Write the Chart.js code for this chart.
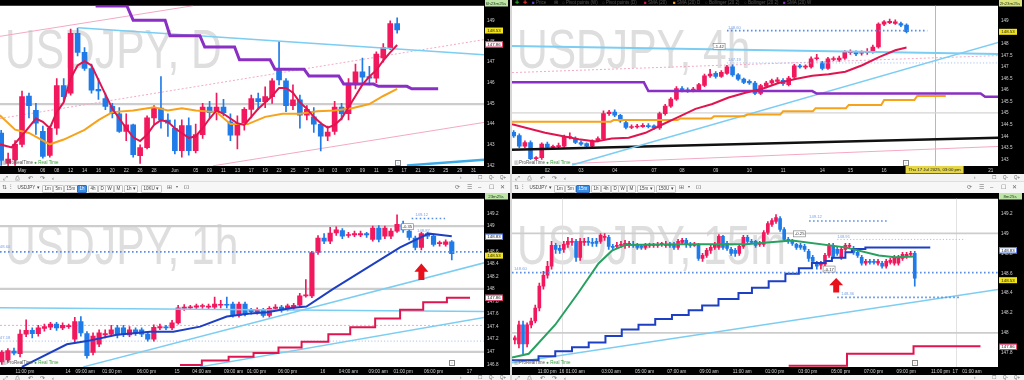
<!DOCTYPE html>
<html><head><meta charset="utf-8">
<script src="https://cdn.jsdelivr.net/npm/chart.js@4.4.1/dist/chart.umd.min.js"></script>
<style>
html,body{margin:0;padding:0}
body{width:1024px;height:380px;overflow:hidden;background:#e9e9e9;position:relative;font-family:"Liberation Sans",Arial,sans-serif}
canvas{position:absolute;display:block}
.el{position:absolute;white-space:nowrap;line-height:1}
.btn{font-size:4.5px;color:#444;border:0.5px solid #c6c6c6;background:#fbfbfb;padding:1.2px 1.6px;border-radius:1px}
.hl{background:#3b8ee8;color:#fff;border-color:#2a70c0}
.ic{font-size:6px;color:#666}
.leg{font-size:4.5px;color:#555}
.prt{font-size:4.5px;color:#555}
.info{width:4px;height:4px;border:0.6px solid #888;font-size:3.5px;line-height:4px;text-align:center;color:#777;background:#fff}
</style></head><body>
<div class="el" style="left:0;top:174px;width:1024px;height:7px;background:#f3f3f3"></div>
<div class="el" style="left:0;top:181px;width:1024px;height:12px;background:#f7f7f7;border-top:0.5px solid #dedede"></div>
<div class="el" style="left:0;top:375px;width:1024px;height:5px;background:#f3f3f3"></div>
<div class="el" style="left:510px;top:0;width:2px;height:380px;background:#d6d6d6"></div>
<canvas id="cD" width="510" height="174" style="left:0;top:0"></canvas>
<canvas id="c4" width="512" height="174" style="left:512px;top:0"></canvas>
<canvas id="c1" width="510" height="182" style="left:0;top:193px"></canvas>
<canvas id="c15" width="512" height="182" style="left:512px;top:193px"></canvas>
<script>
// ================= DAILY (USDJPY, D) =================
const dayFirst = -3;
const dayOpen = [143.57,142.10,142.27,143.02,145.36,144.66,143.65,142.48,143.80,145.86,145.50,148.40,147.47,146.69,145.68,145.24,144.86,144.50,143.65,143.96,142.47,142.86,144.30,144.77,144.19,143.80,142.71,143.93,142.71,143.49,144.82,144.55,144.82,144.11,143.46,143.99,144.71,145.24,145.08,145.33,146.64,146.10,144.89,145.17,144.43,144.35,143.99,143.41,143.65,144.82,144.50,145.99,146.53,146.30,146.22,147.20,147.70,148.87];
const dayHigh = [143.70,142.60,143.20,145.60,145.50,145.00,143.90,143.90,146.20,146.20,148.60,148.65,147.70,146.90,146.20,145.50,145.00,144.80,144.50,144.00,143.00,144.40,144.90,146.30,144.50,144.20,144.20,144.30,144.00,145.00,145.10,145.50,145.20,144.50,144.40,144.80,145.40,145.50,145.80,146.20,148.01,146.20,145.90,145.40,144.90,144.80,144.10,143.90,145.10,145.00,146.20,146.90,147.20,146.80,147.50,147.90,149.00,149.14];
const dayLow = [142.00,141.97,142.00,142.90,144.30,143.50,142.35,142.40,143.50,145.10,145.40,147.30,146.60,145.50,145.20,144.70,144.30,143.60,143.20,142.40,142.10,142.80,144.00,143.80,143.40,142.55,142.40,142.50,142.60,143.30,144.30,144.20,144.40,143.20,142.80,143.70,144.30,144.70,144.80,145.00,145.90,144.60,144.70,143.80,144.20,143.60,142.70,143.20,143.50,144.20,144.20,145.70,146.00,145.90,146.00,147.00,147.60,148.40];
const dayClose = [142.24,142.30,143.02,145.33,144.89,144.04,142.43,143.80,145.86,145.33,148.40,147.47,146.69,145.64,145.60,144.86,144.50,143.65,143.96,142.52,142.86,144.30,144.77,144.20,144.04,142.71,143.93,142.71,143.49,144.82,144.55,144.82,144.55,143.46,143.99,144.71,145.24,145.08,145.33,146.10,146.14,144.89,145.17,144.43,144.71,143.99,143.41,143.61,144.82,144.50,145.99,146.53,146.27,146.22,147.39,147.70,148.87,148.56];
const dayTickPos = [0,3,5,7,9,11,13,15,17,19,22,25,27,29,31,33,35,37,39,41,43,45,47,49,51,53,55,57,59,61,63,65];
const dayTickLabels = ['May','06','08','12','14','16','20','22','26','28','Jun','05','09','11','13','17','19','23','25','27','Jul','03','07','09','11','15','17','21','23','25','29','31'];
const dayPriceTicks = [142,143,144,145,146,147,148,149];
const daySmaX = [-3.2,-1.5,0.5,2,3,4,5,6,7,8,9,10,11,12,13,14,15,16,17,18,19,20,21,22,23,24,25,26,27,28,29,30,31,32,33,34,35,36,37,38,39,40,41,42,43,44,45,46,47,48,49,50,51,52,53,54];
const daySmaY = [143.02,142.87,143.65,144.27,144.11,143.80,144.58,145.05,146.22,146.84,147.05,146.84,146.14,145.44,144.74,144.27,143.80,143.36,143.18,143.49,143.96,144.19,144.11,143.80,143.57,143.33,143.41,143.80,144.27,144.66,144.50,144.27,144.04,143.96,144.35,144.74,145.05,145.36,145.75,145.75,145.52,145.05,144.74,144.35,144.04,143.83,143.96,144.27,144.82,145.36,145.91,146.30,146.61,147.08,147.47,147.83];
const daySma20X = [-3.2,-1,1,4,6,9,11,13,16,19,21,23,25,28,30,32.5,35,37.5,40,42.5,45,47.5,50,52,54];
const daySma20Y = [144.43,143.73,143.57,143.02,143.25,143.72,144.19,144.58,144.66,144.82,144.66,144.77,144.66,144.58,144.00,144.00,144.35,144.50,144.50,144.62,144.66,144.77,144.97,145.36,145.70];
const dayWeekX = [10.6,10.8,15.1,16.0,20.6,21.3,25.6,26.3,30.6,31.3,35.7,36.4,40.6,41.3,45.6,46.3,50.6,51.3,55.4,56.1,59.9];
const dayWeekY = [150.3,149.72,149.72,149.03,149.03,148.28,148.28,147.73,147.73,147.11,147.11,146.66,146.66,146.33,146.33,145.94,145.94,145.83,145.83,145.71,145.71];
const dayTrendX = [8.06,66.5], dayTrendY = [148.67,147.36];
const dayTrend2X = [55.4,66.5], dayTrend2Y = [142.0,142.27];
const dayBandUpX = [-3.17,24.6], dayBandUpY = [148.25,149.73];
const dayBandLoX = [27.5,66.5], dayBandLoY = [141.98,144.08];
const dayBandMidX = [-3.17,66.5], dayBandMidY = [144.27,148.09];
const dayLevels = [144.97];
const dayPrice = 148.53, dayPrevClose = 147.86;

// ================= 4H =================
const h4First = 0;
const h4Open = [144.17,144.03,143.57,143.73,143.03,143.07,143.66,143.52,143.55,143.57,143.94,143.87,143.73,143.68,143.57,143.80,143.90,144.98,145.05,144.91,144.59,144.38,144.40,144.42,144.46,144.45,144.36,144.98,145.31,145.61,146.07,146.00,145.97,146.00,146.20,146.62,146.73,146.59,146.73,147.01,146.66,146.48,146.38,146.31,145.86,146.17,146.31,146.38,146.43,146.24,146.56,147.05,147.00,147.01,147.36,147.18,146.94,147.33,147.31,147.39,147.62,147.64,147.60,147.62,147.66,147.87,148.86,148.93,148.89,148.89,148.82];
const h4High = [144.25,144.10,143.80,143.80,143.12,143.72,143.75,143.62,143.70,144.05,144.15,143.98,143.80,143.72,143.85,143.98,145.10,145.12,145.15,144.95,144.65,144.50,144.52,144.55,144.55,144.50,145.05,145.38,145.68,146.15,146.15,146.10,146.12,146.30,146.70,146.90,146.80,146.85,147.08,147.10,146.72,146.52,146.45,146.38,146.25,146.38,146.48,146.55,146.50,146.60,147.12,147.12,147.10,147.45,147.55,147.25,147.42,147.45,147.48,147.72,147.75,147.70,147.70,147.80,147.95,148.92,149.02,149.08,149.05,148.95,148.88];
const h4Low = [143.95,143.50,143.50,142.98,142.98,143.00,143.45,143.46,143.48,143.52,143.88,143.68,143.60,143.52,143.52,143.75,143.85,144.90,144.85,144.60,144.32,144.33,144.35,144.38,144.36,144.30,144.30,144.92,145.25,145.55,145.92,145.90,145.92,145.95,146.15,146.55,146.52,146.55,146.68,146.60,146.42,146.28,146.25,145.80,145.80,146.10,146.25,146.30,146.20,146.18,146.50,146.95,146.92,146.95,147.30,146.88,146.90,147.28,147.25,147.33,147.55,147.50,147.52,147.55,147.60,147.82,148.80,148.88,148.85,148.75,148.48];
const h4Close = [144.01,143.57,143.73,143.03,143.07,143.66,143.52,143.56,143.58,143.96,143.98,143.73,143.66,143.57,143.80,143.90,144.98,145.05,144.91,144.66,144.38,144.41,144.43,144.47,144.42,144.36,144.98,145.31,145.61,146.07,146.00,145.97,146.05,146.24,146.62,146.70,146.59,146.77,147.01,146.66,146.48,146.34,146.31,145.86,146.20,146.31,146.41,146.45,146.28,146.52,147.05,147.01,147.02,147.36,147.40,146.94,147.36,147.36,147.39,147.66,147.66,147.57,147.64,147.66,147.87,148.86,148.96,148.98,148.96,148.82,148.54];
const h4TickPos = [6,12,18,25,30,36,42,48,55,60,66,85];
const h4TickLabels = ['02','03','04','07','08','09','10','11','14','15','16','21'];
const h4PriceTicks = [143,143.5,144,144.5,145,145.5,146,146.5,147,147.5,148,148.5,149];
const h4SmaX = [-0.3,5.6,8.6,11.6,14.6,17.5,20.5,23.5,26.4,29.4,32.4,35.4,38.3,41.3,44.3,47.2,50.2,53.2,56.1,59.1,62.1,65.1,68,70];
const h4SmaY = [144.52,144.15,144.01,143.87,143.77,143.90,143.94,144.15,144.50,144.84,145.19,145.40,145.68,145.89,146.06,146.31,146.48,146.62,146.69,146.80,147.08,147.43,147.73,147.85];
const h4DayX = [-0.3,17.3,17.8,29.2,29.7,35.2,35.7,41.1,41.6,47.5,48.0,53.3,53.8,59.2,59.7,65.5,66.0,71.4,71.9,77.0];
const h4DayY = [144.63,144.63,144.70,144.70,144.77,144.77,144.87,144.87,144.94,144.94,145.08,145.08,145.22,145.22,145.36,145.36,145.57,145.57,145.75,145.75];
const h4WeekX = [-0.3,23.2,24.0,53.2,54.0,83.2,84.0,86.5];
const h4WeekY = [146.34,146.34,145.96,145.96,145.85,145.85,145.71,145.71];
const h4SupportX = [-0.3,86.5], h4SupportY = [143.42,143.94];
const h4TrendX = [10.4,86.5], h4TrendY = [142.75,148.08];
const h4FlatX = [-0.3,86.5], h4FlatY = [147.91,147.57];
const h4MidX = [-0.3,86.5], h4MidY = [146.76,147.50];
const h4LowX = [10.4,86.5], h4LowY = [142.82,143.56];
const h4Levels = [145.01];
const h4DotAX = [38,73.7], h4DotAY = 148.58;
const h4DotBX = [38,86.5], h4DotBY = 147.18;
const h4Cross = 75;

// ================= 1H =================
const h1First = 0;
const h1Open = [146.84,146.87,147.01,146.97,147.28,147.34,147.29,147.37,147.39,147.44,147.38,147.40,147.20,147.48,147.29,146.99,147.12,147.27,147.28,147.38,147.38,147.27,147.35,147.35,147.28,147.20,147.38,147.39,147.38,147.46,147.69,147.70,147.71,147.72,147.71,147.71,147.74,147.75,147.76,147.58,147.76,147.66,147.64,147.66,147.58,147.69,147.71,147.68,147.70,147.74,147.89,147.89,148.58,148.81,148.76,148.89,148.93,148.85,148.86,148.86,148.88,148.79,148.97,148.84,148.84,148.92,149.03,148.92,148.81,148.66,148.88,148.84,148.72,148.71,148.75];
const h1High = [147.02,147.05,147.06,147.35,147.51,147.38,147.42,147.44,147.47,147.47,147.46,147.44,147.55,147.56,147.32,147.30,147.35,147.35,147.42,147.42,147.42,147.40,147.38,147.38,147.31,147.43,147.44,147.42,147.50,147.74,147.75,147.74,147.76,147.76,147.76,147.87,147.82,147.87,147.79,147.79,147.79,147.69,147.70,147.69,147.72,147.75,147.74,147.76,147.77,147.93,148.15,148.60,148.85,148.88,148.98,148.99,148.96,148.90,148.92,148.92,148.90,149.00,149.01,149.00,148.96,149.18,149.08,148.95,148.84,148.90,148.90,148.87,148.76,148.78,148.77];
const h1Low = [146.80,146.84,146.95,146.92,147.24,147.22,147.25,147.33,147.35,147.34,147.35,147.37,147.15,147.25,146.90,146.95,147.08,147.22,147.25,147.22,147.24,147.24,147.26,147.24,147.17,147.17,147.35,147.35,147.35,147.44,147.66,147.67,147.68,147.69,147.68,147.68,147.70,147.70,147.55,147.55,147.57,147.60,147.60,147.55,147.55,147.66,147.63,147.65,147.67,147.72,147.87,147.86,148.55,148.72,148.72,148.85,148.80,148.82,148.83,148.83,148.82,148.76,148.75,148.80,148.80,148.90,148.90,148.78,148.62,148.62,148.80,148.68,148.68,148.68,148.46];
const h1Close = [146.99,147.02,146.98,147.28,147.34,147.29,147.38,147.40,147.44,147.38,147.42,147.41,147.48,147.30,146.94,147.25,147.30,147.29,147.35,147.27,147.28,147.35,147.30,147.28,147.20,147.39,147.40,147.38,147.46,147.70,147.71,147.71,147.73,147.73,147.72,147.76,147.75,147.74,147.58,147.76,147.60,147.64,147.66,147.58,147.69,147.71,147.66,147.73,147.74,147.89,147.90,148.58,148.81,148.76,148.89,148.94,148.84,148.86,148.88,148.88,148.86,148.97,148.79,148.97,148.92,149.03,148.94,148.82,148.66,148.88,148.84,148.71,148.73,148.75,148.56];
const h1TickPos = [3.8,10.9,13.7,18.1,23.8,28.8,32.9,38.1,41.9,47,52.8,57,61.9,66,71,76.9];
const h1TickLabels = ['11:00 pm','14','09:00 am','01:00 pm','06:00 pm','15','04:00 am','09:00 am','01:00 pm','06:00 pm','16','04:00 am','09:00 am','01:00 pm','06:00 pm','17'];
const h1PriceTicks = [146.8,147,147.2,147.4,147.6,147.8,148,148.2,148.4,148.6,148.8,149,149.2];
const h1SmaX = [3.3,10.7,14,18.9,24.4,28.2,32.6,37,40.8,43.6,47.9,50.1,54.5,60,65.5,70.2,71.2,74];
const h1SmaY = [146.76,147.12,147.17,147.27,147.32,147.32,147.40,147.56,147.61,147.63,147.70,147.72,148.00,148.33,148.66,148.88,148.87,148.84];
const h1StepX = [29.3,32.9,37.3,41.4,45.5,49.3,53.7,57.3,61.4,65.5,69.3,73.2,77];
const h1StepY = [146.79,146.86,146.92,146.98,147.07,147.16,147.28,147.39,147.53,147.67,147.79,147.86,147.86];
const h1CyanAX = [-0.3,79.3], h1CyanAY = [147.70,147.64];
const h1CyanBX = [13.4,79.5], h1CyanBY = [146.76,148.42];
const h1CyanCX = [32.6,79.5], h1CyanCY = [146.76,147.55];
const h1Levels = [147,148,149];
const h1DotMain = 148.59, h1DotLow = 147.17, h1DotPink = 147.42;
const h1DotTopX = [67.4,72.9], h1DotTopY = 149.12;
const h1Arrow = [69.0,148.404,148.143];

// ================= 15M =================
const m15First = 0;
const m15Open = [147.93,147.89,148.08,147.89,148.08,148.12,148.25,148.47,148.58,148.67,148.88,148.85,148.84,148.89,148.91,148.92,148.76,148.91,148.92,148.91,148.92,148.92,148.96,148.96,148.87,148.87,148.88,148.88,148.89,148.89,148.88,148.87,148.86,148.88,148.88,148.88,148.89,148.88,148.89,148.89,148.86,148.91,148.93,148.89,148.88,148.89,148.75,148.78,148.83,148.86,148.86,148.97,148.90,148.84,148.83,148.80,148.87,148.96,148.92,148.92,148.89,148.89,149.01,149.09,149.12,149.15,149.04,148.94,148.92,148.89,148.88,148.87,148.82,148.76,148.70,148.68,148.69,148.78,148.88,148.84,148.76,148.84,148.87,148.85,148.81,148.76,148.70,148.72,148.72,148.70,148.70,148.67,148.71,148.70,148.70,148.75,148.77,148.79,148.80];
const m15High = [147.97,148.12,148.12,148.10,148.15,148.28,148.50,148.62,148.72,148.92,148.90,148.88,148.92,148.96,148.95,148.94,148.95,148.95,148.96,148.95,148.95,149.00,149.00,148.98,148.89,148.91,148.92,148.93,148.92,148.92,148.90,148.89,148.90,148.90,148.90,148.91,148.91,148.92,148.91,148.91,148.94,148.95,148.95,148.91,148.91,148.90,148.80,148.85,148.88,148.91,148.99,148.98,148.92,148.86,148.85,148.89,148.98,148.98,148.94,148.93,148.92,149.03,149.12,149.15,149.19,149.17,149.06,148.96,148.94,148.90,148.90,148.89,148.84,148.78,148.72,148.72,148.80,148.90,148.90,148.86,148.86,148.90,148.90,148.87,148.83,148.78,148.74,148.74,148.74,148.74,148.72,148.74,148.75,148.78,148.78,148.81,148.81,148.82,148.82];
const m15Low = [147.89,147.85,147.79,147.86,148.05,148.10,148.22,148.44,148.55,148.64,148.80,148.80,148.81,148.86,148.88,148.72,148.73,148.88,148.88,148.87,148.87,148.90,148.93,148.84,148.83,148.85,148.86,148.85,148.86,148.86,148.84,148.84,148.84,148.86,148.86,148.86,148.87,148.86,148.86,148.84,148.84,148.89,148.86,148.86,148.87,148.73,148.72,148.76,148.80,148.84,148.84,148.84,148.83,148.78,148.77,148.78,148.85,148.90,148.90,148.86,148.87,148.87,148.99,149.07,149.10,149.02,148.92,148.90,148.88,148.84,148.84,148.82,148.72,148.70,148.64,148.64,148.66,148.76,148.75,148.78,148.74,148.82,148.85,148.79,148.76,148.68,148.68,148.69,148.69,148.68,148.65,148.65,148.69,148.68,148.68,148.73,148.75,148.77,148.47];
const m15Close = [147.95,148.08,147.89,148.08,148.12,148.25,148.47,148.58,148.67,148.88,148.84,148.83,148.89,148.92,148.92,148.76,148.92,148.92,148.91,148.90,148.90,148.98,148.97,148.87,148.86,148.88,148.89,148.90,148.90,148.88,148.86,148.86,148.88,148.89,148.89,148.89,148.90,148.89,148.88,148.86,148.92,148.93,148.89,148.88,148.89,148.75,148.78,148.83,148.86,148.89,148.97,148.86,148.85,148.80,148.80,148.87,148.96,148.92,148.91,148.88,148.90,149.01,149.10,149.13,149.16,149.04,148.94,148.93,148.90,148.86,148.86,148.84,148.75,148.72,148.67,148.69,148.78,148.87,148.77,148.80,148.84,148.88,148.88,148.81,148.78,148.70,148.72,148.71,148.71,148.72,148.67,148.72,148.73,148.76,148.76,148.79,148.79,148.80,148.55];
const m15TickPos = [7.9,11.5,14.8,23.6,31.8,39.7,47.6,55.7,63.7,71.8,79.8,87.9,95.9,104.3,107.9,112];
const m15TickLabels = ['11:00 pm','16','01:00 am','03:00 am','05:00 am','07:00 am','09:00 am','11:00 am','01:00 pm','03:00 pm','05:00 pm','07:00 pm','09:00 pm','11:00 pm','17','01:00 am'];
const m15PriceTicks = [147.8,148,148.2,148.4,148.6,148.8,149,149.2];
const m15SmaX = [-0.7,3.4,9.9,15.6,20.5,23.8,27.1,40.1,56.5,67.9,81,89.2,93.2,97.7];
const m15SmaY = [147.752,147.79,148.082,148.406,148.698,148.827,148.885,148.892,148.892,148.93,148.86,148.779,148.762,148.769];
const m15StepX = [-0.7,5.8,9.9,14,18.1,22.2,26.2,30.3,34.4,38.5,42.6,45.9,49.9,54.8,58.1,62.2,66.3,69.6,72.8,76.1,77.7,81,82.6,85.9,101.8];
const m15StepY = [147.726,147.765,147.816,147.855,147.904,147.969,148.033,148.082,148.14,148.179,148.228,148.276,148.341,148.4,148.455,148.519,148.594,148.649,148.704,148.723,148.756,148.811,148.843,148.86,148.86];
const m15RedX = [67.1,81.4,97.7,114.1], m15RedY = [147.67,147.79,147.865,147.865];
const m15CyanX = [-0.7,118.6], m15CyanY = [147.70,148.438];
const m15Levels = [148,149];
const m15DotMain = 148.607;
const m15DotTopX = [72.1,91.2], m15DotTopY = 149.125;
const m15DotMidX = [79,110.4], m15DotMidY = 148.94;
const m15DotLowX = [79,108.9], m15DotLowY = 148.357;
const m15Days = [11.5,108];
const m15Arrow = [78.75,148.552,148.406];
const lastPrice = 148.53, prevClose = 147.86, smaNow = 148.83;

// ================= drawing =================
const UP = '#f2185d', DN = '#1f7be8';
const FONT = '"Liberation Sans", Arial, sans-serif';
const CYAN = '#7ccdf2', PINK = '#f3a9c5', DOT = '#5a8ee6', GRAYL = '#cdcdcd';
function L(x, y, c, w, o, extra) { return Object.assign({x, y, c, w, o}, extra || {}); }

function mkChart(id, P) {
  const ds = [];
  const cols = P.O.map((o, i) => P.C[i] >= o ? UP : DN);
  ds.push({type:'bar', order:6, grouped:false, barThickness:1, minBarLength:1, backgroundColor:cols,
    data:P.O.map((o, i) => ({x:P.first + i, y:[P.L[i], P.H[i]]}))});
  ds.push({type:'bar', order:5, grouped:false, barThickness:P.bw, minBarLength:1, backgroundColor:cols,
    data:P.O.map((o, i) => ({x:P.first + i, y:[Math.min(o, P.C[i]), Math.max(o, P.C[i])]}))});
  P.lines.forEach(l => ds.push({type:'line', order:l.o, borderColor:l.c, borderWidth:l.w, borderDash:l.d || [],
    stepped:l.s || false, pointRadius:0, pointHoverRadius:0, fill:false, tension:0,
    data:l.x.map((x, i) => ({x, y:Array.isArray(l.y) ? l.y[i] : l.y}))}));

  const txt = (c, s, x, y, col, size, align, base) => {
    c.fillStyle = col; c.font = (size || 4.5) + 'px ' + FONT; c.textAlign = align || 'left';
    c.textBaseline = base || 'middle'; c.fillText(s, x, y);
  };
  const plug = {
    id:'deco_' + id,
    beforeDraw(ch) {
      const c = ch.ctx, a = ch.chartArea;
      c.save(); c.fillStyle = '#000'; c.fillRect(0, 0, ch.width, ch.height);
      c.fillStyle = '#fff'; c.fillRect(a.left, a.top, a.right - a.left, a.bottom - a.top); c.restore();
    },
    beforeDatasetsDraw(ch) {
      const c = ch.ctx, a = ch.chartArea, xs = ch.scales.x;
      c.save(); c.beginPath(); c.rect(a.left, a.top, a.right - a.left, a.bottom - a.top); c.clip();
      c.fillStyle = '#dedede'; c.font = '56px ' + FONT; c.textAlign = 'left'; c.textBaseline = 'alphabetic';
      c.translate(a.left + 5, a.top + P.wmBase); c.scale(0.76, 1); c.fillText(P.wm, 0, 0);
      c.restore();
      c.save();
      (P.vl || []).forEach(v => {
        const px = Math.round(xs.getPixelForValue(v.x)) + 0.5;
        c.strokeStyle = v.c; c.lineWidth = 1; c.beginPath(); c.moveTo(px, a.top); c.lineTo(px, a.bottom); c.stroke();
      });
      c.restore();
    },
    afterDatasetsDraw(ch) {
      const c = ch.ctx, a = ch.chartArea, xs = ch.scales.x, ys = ch.scales.y;
      c.save(); c.beginPath(); c.rect(a.left, a.top, a.right - a.left, a.bottom - a.top); c.clip();
      (P.texts || []).forEach(t => txt(c, t.t, xs.getPixelForValue(t.x), ys.getPixelForValue(t.y), t.c || '#7aa3ea', 4.2, t.al));
      (P.boxes || []).forEach(b => {
        const px = xs.getPixelForValue(b.x), py = ys.getPixelForValue(b.y);
        c.fillStyle = '#fff'; c.fillRect(px - 6, py - 3, 12, 6);
        c.strokeStyle = '#777'; c.lineWidth = 0.6; c.strokeRect(px - 6, py - 3, 12, 6);
        txt(c, b.t, px, py + 0.3, '#333', 4.2, 'center');
      });
      (P.arrows || []).forEach(r => {
        const px = xs.getPixelForValue(r[0]), yt = ys.getPixelForValue(r[1]), yb = ys.getPixelForValue(r[2]);
        const hh = (yb - yt) * 0.5;
        c.fillStyle = '#e8101a'; c.beginPath();
        c.moveTo(px, yt); c.lineTo(px + 7, yt + hh); c.lineTo(px + 3, yt + hh); c.lineTo(px + 3, yb);
        c.lineTo(px - 3, yb); c.lineTo(px - 3, yt + hh); c.lineTo(px - 7, yt + hh); c.closePath(); c.fill();
      });
      c.restore();
    },
    afterDraw(ch) {
      const c = ch.ctx, a = ch.chartArea, xs = ch.scales.x, ys = ch.scales.y;
      c.save();
      if (P.top) {
        c.fillStyle = P.top.bg; c.fillRect(a.right + 1, 0, ch.width - a.right - 3, 6.5);
        txt(c, P.top.t, (a.right + ch.width) / 2 - 1, 3.4, '#1f3d18', 4.4, 'center');
      }
      (P.axBoxes || []).forEach(b => {
        const py = ys.getPixelForValue(b.v);
        c.fillStyle = b.bg; c.fillRect(a.right + 1, py - 3, 18, 6);
        if (b.bd) { c.strokeStyle = b.bd; c.lineWidth = 0.8; c.strokeRect(a.right + 1.4, py - 2.6, 17.2, 5.2); }
        txt(c, b.v.toFixed(2), a.right + 10, py + 0.3, '#222', 4.4, 'center');
      });
      if (P.xBox) {
        const px = xs.getPixelForValue(P.xBox.x);
        c.fillStyle = '#e5d648'; c.fillRect(px - 29, a.bottom, 58, 7.5);
        txt(c, P.xBox.t, px, a.bottom + 4, '#222', 4.4, 'center');
      }
      c.restore();
    }
  };

  return new Chart(document.getElementById(id), {
    type:'bar',
    data:{datasets:ds},
    plugins:[plug],
    options:{
      responsive:false, maintainAspectRatio:false, animation:false, devicePixelRatio:1, events:[],
      layout:{padding:0, autoPadding:false},
      plugins:{legend:{display:false}, tooltip:{enabled:false}},
      scales:{
        x:{type:'linear', min:P.xmin, max:P.xmax, offset:false,
          grid:{display:false, drawTicks:false}, border:{display:false},
          afterBuildTicks:s => { s.ticks = P.xt.map(v => ({value:v})); },
          afterFit:s => { s.height = 8; },
          ticks:{autoSkip:false, maxRotation:0, minRotation:0, padding:2, color:'#d2d2d2',
            font:{family:FONT, size:4.6}, callback:(v, i) => P.xl[i]}},
        y:{type:'linear', position:'right', min:P.ymin, max:P.ymax, beginAtZero:false,
          grid:{display:false, drawTicks:false}, border:{display:false},
          afterBuildTicks:s => { s.ticks = P.yt.map(v => ({value:v})); },
          afterFit:s => { s.width = 26; },
          ticks:{padding:3, color:'#d2d2d2', font:{family:FONT, size:4.6}, callback:v => String(+(+v).toFixed(2))}}
      }
    }
  });
}

// Daily
mkChart('cD', {
  first:dayFirst, O:dayOpen, H:dayHigh, L:dayLow, C:dayClose, bw:5,
  xmin:-3.17, xmax:66.5, ymin:141.97, ymax:149.73, xt:dayTickPos, xl:dayTickLabels, yt:dayPriceTicks,
  wm:'USDJPY, D', wmBase:62,
  lines:[
    L([-3.17,66.5], dayLevels[0], GRAYL, 2.2, 10),
    L(dayBandUpX, dayBandUpY, PINK, 1, 8),
    L(dayBandLoX, dayBandLoY, PINK, 1, 8),
    L(dayBandMidX, dayBandMidY, PINK, 1, 8, {d:[2,2]}),
    L(dayTrendX, dayTrendY, CYAN, 1.5, 3),
    L(dayTrend2X, dayTrend2Y, '#3aaae8', 2.5, 3),
    L(dayWeekX, dayWeekY, '#8a2fc4', 3, 2),
    L(daySma20X, daySma20Y, '#f7a21b', 2, 2),
    L(daySmaX, daySmaY, '#e0154f', 2, 1)
  ],
  top:{t:'6h23m25s', bg:'#bfe6a8'},
  axBoxes:[{v:dayPrice, bg:'#f2e41c'}, {v:dayPrevClose, bg:'#fff', bd:'#e0154f'}]
});

// 4h
mkChart('c4', {
  first:h4First, O:h4Open, H:h4High, L:h4Low, C:h4Close, bw:4,
  xmin:-0.3, xmax:86.3, ymin:142.71, ymax:149.66, xt:h4TickPos, xl:h4TickLabels, yt:h4PriceTicks,
  wm:'USDJPY, 4h', wmBase:62,
  vl:[{x:h4Cross, c:'#b8b8b8'}],
  lines:[
    L([-0.3,86.5], h4Levels[0], '#d4d4d4', 1.2, 10),
    L(h4MidX, h4MidY, PINK, 1, 8, {d:[2,2]}),
    L(h4LowX, h4LowY, PINK, 1, 8),
    L(h4FlatX, h4FlatY, CYAN, 2, 3),
    L(h4TrendX, h4TrendY, CYAN, 1.5, 3),
    L(h4SupportX, h4SupportY, '#111', 2.5, 3),
    L(h4WeekX, h4WeekY, '#8a2fc4', 2.5, 2),
    L(h4DayX, h4DayY, '#f7a21b', 2, 2),
    L(h4SmaX, h4SmaY, '#e0154f', 2, 1),
    L(h4DotAX, h4DotAY, DOT, 1.6, 1, {d:[1.6,2.4]}),
    L(h4DotBX, h4DotBY, '#a9c3f0', 1, 1, {d:[1.2,2]})
  ],
  texts:[{x:38.2, y:148.72, t:'148.60'}, {x:38.2, y:147.31, t:'147.19'}],
  boxes:[{x:36.6, y:147.89, t:'-1.42'}],
  top:{t:'2h23m25s', bg:'#dde37c'},
  axBoxes:[{v:lastPrice, bg:'#f2e41c'}],
  xBox:{x:h4Cross, t:'Thu 17 Jul 2025, 03:00 pm'}
});

// 1h
mkChart('c1', {
  first:h1First, O:h1Open, H:h1High, L:h1Low, C:h1Close, bw:4.5,
  xmin:-0.3, xmax:79.3, ymin:146.758, ymax:149.435, xt:h1TickPos, xl:h1TickLabels, yt:h1PriceTicks,
  wm:'USDJPY, 1h', wmBase:65,
  lines:[
    L([-0.3,79.3], h1Levels[0], GRAYL, 2.2, 10),
    L([-0.3,79.3], h1Levels[1], GRAYL, 2.2, 10),
    L([-0.3,79.3], h1Levels[2], GRAYL, 2.2, 10),
    L([-0.3,79.3], h1DotPink, PINK, 1, 8, {d:[2,2]}),
    L([-0.3,79.3], h1DotLow, '#a9c3f0', 1, 8, {d:[1.2,2]}),
    L(h1CyanAX, h1CyanAY, CYAN, 1.5, 3),
    L(h1CyanBX, h1CyanBY, CYAN, 1.5, 3),
    L(h1CyanCX, h1CyanCY, CYAN, 1.5, 3),
    L(h1StepX, h1StepY, '#e0154f', 2, 2, {s:true}),
    L(h1SmaX, h1SmaY, '#1d3fc4', 2, 1),
    L([-0.3,79.3], h1DotMain, DOT, 1.8, 1, {d:[1.6,2.4]}),
    L(h1DotTopX, h1DotTopY, DOT, 1.6, 1, {d:[1.6,2.4]})
  ],
  texts:[{x:1.4, y:148.666, t:'148.60', al:'right'}, {x:1.4, y:147.227, t:'147.18', al:'right'},
         {x:68, y:149.173, t:'149.12'}, {x:68.3, y:148.93, t:'148.87'}],
  boxes:[{x:66.7, y:148.99, t:'-0.35'}],
  arrows:[h1Arrow],
  top:{t:'23m25s', bg:'#bfe6a8'},
  axBoxes:[{v:smaNow, bg:'#fff', bd:'#3563d6'}, {v:lastPrice, bg:'#f2e41c'}, {v:prevClose, bg:'#fff', bd:'#e0154f'}]
});

// 15m
mkChart('c15', {
  first:m15First, O:m15Open, H:m15High, L:m15Low, C:m15Close, bw:3,
  xmin:-0.7, xmax:118.4, ymin:147.657, ymax:149.349, xt:m15TickPos, xl:m15TickLabels, yt:m15PriceTicks,
  wm:'USDJPY, 15m', wmBase:65,
  vl:[{x:m15Days[0], c:'#e2e2e2'}, {x:m15Days[1], c:'#e2e2e2'}],
  lines:[
    L([-0.7,118.4], m15Levels[0], GRAYL, 1.8, 10),
    L([-0.7,118.4], m15Levels[1], GRAYL, 1.8, 10),
    L(m15CyanX, m15CyanY, CYAN, 1.5, 3),
    L(m15RedX, m15RedY, '#e0154f', 2, 2, {s:true}),
    L(m15StepX, m15StepY, '#1d3fc4', 2, 2, {s:true}),
    L(m15SmaX, m15SmaY, '#27a060', 2, 1),
    L([-0.7,118.4], m15DotMain, DOT, 1.8, 1, {d:[1.6,2.4]}),
    L(m15DotTopX, m15DotTopY, DOT, 1.6, 1, {d:[1.6,2.4]}),
    L(m15DotMidX, m15DotMidY, '#a9c3f0', 1, 1, {d:[1.2,2]}),
    L(m15DotLowX, m15DotLowY, DOT, 1.6, 1, {d:[1.6,2.4]})
  ],
  texts:[{x:-0.2, y:148.64, t:'148.60'}, {x:72.1, y:149.164, t:'149.12'},
         {x:79, y:148.97, t:'148.91'}, {x:80, y:148.397, t:'148.36'}],
  boxes:[{x:69.8, y:148.996, t:'-0.25'}, {x:77, y:148.642, t:'-0.17'}],
  arrows:[m15Arrow],
  top:{t:'8m25s', bg:'#bfe6a8'},
  axBoxes:[{v:smaNow, bg:'#fff', bd:'#3563d6'}, {v:lastPrice, bg:'#f2e41c'}, {v:prevClose, bg:'#fff', bd:'#e0154f'}]
});

// ================= UI chrome (HTML text) =================
function add(cls, x, y, html, st) {
  const d = document.createElement('div'); d.className = 'el ' + cls;
  d.style.left = x + 'px'; d.style.top = y + 'px'; d.innerHTML = html;
  if (st) Object.assign(d.style, st);
  document.body.appendChild(d); return d;
}
// top-right legend
[['<span style="color:#2a2">✚</span>',515],['<span style="color:#e33">✚</span>',523],
 ['<span style="color:#6a3fd0">■</span> Price',532],['⊞',554],
 ['○ Pivot points (W)',562],['○ Pivot points (D)',602],
 ['<span style="color:#e0154f">■</span> SMA (20)',644],['<span style="color:#f7a21b">■</span> SMA (20) D',673],
 ['○ Bollinger (20 2)',705],['○ Bollinger (20 2)',744],['<span style="color:#8a2fc4">■</span> SMA (20) W',783]]
 .forEach(it => add('leg', it[1], 1.2, it[0]));
// ProRealTime footers & info icons
[[2,161],[514,161],[2,361],[514,361]].forEach(p =>
  add('prt', p[0], p[1], '<span style="color:#888">▥</span>ProRealTime <span style="color:#3aa03a">● Real Time</span>'));
[[395,160],[903,160],[449,360],[912,360]].forEach(p => add('info', p[0], p[1], 'i'));
// navigation rows
function navRow(x0, y, w) {
  [['⤢',3],['⎙',15],['↶',28],['↷',40],['‹',52]].forEach(it => add('ic', x0 + it[1], y, it[0]));
  [['›',w - 50],['☐',w - 32],['Q-',w - 21],['Q+',w - 10]].forEach(it => add('ic', x0 + it[1], y, it[0], {fontSize:'4.5px', top:(y + 1) + 'px'}));
}
navRow(0, 174.5, 510); navRow(512, 174.5, 512);
navRow(0, 375.2, 510); navRow(512, 375.2, 512);
add('ic', 930, 176, '', {width:40, height:'3px', background:'#dcdcdc', borderRadius:'2px'});
// timeframe toolbars
function toolbar(x0, items) {
  add('ic', x0 + 2, 183.5, '⇅'); add('ic', x0 + 10, 183.5, '⫶');
  add('btn', x0 + 16, 184.5, 'USDJPY ▾', {border:'none', background:'none'});
  items.forEach(it => add('btn' + (it[2] ? ' hl' : ''), x0 + it[1], 184.5, it[0]));
  add('ic', x0 + 167, 183.5, '⊞'); add('ic', x0 + 176, 184.5, '▾', {fontSize:'4px'}); add('ic', x0 + 184, 183.5, '⊡');
  [['⟳',455],['☰',467],['–',478],['☐',489],['✕',500]].forEach(it => add('ic', x0 + it[1], 183.5, it[0]));
}
toolbar(0, [['1m',42],['5m',53],['15m',64],['1h',77,1],['4h',88],['D',98],['W',105],['M',114],['1h ▾',124],['10KU ▾',141]]);
toolbar(512, [['1m',42],['5m',53],['15m',64,1],['1h',79],['4h',89],['D',99],['W',106],['M',115],['15m ▾',125],['150U ▾',144]]);
</script>
</body></html>
